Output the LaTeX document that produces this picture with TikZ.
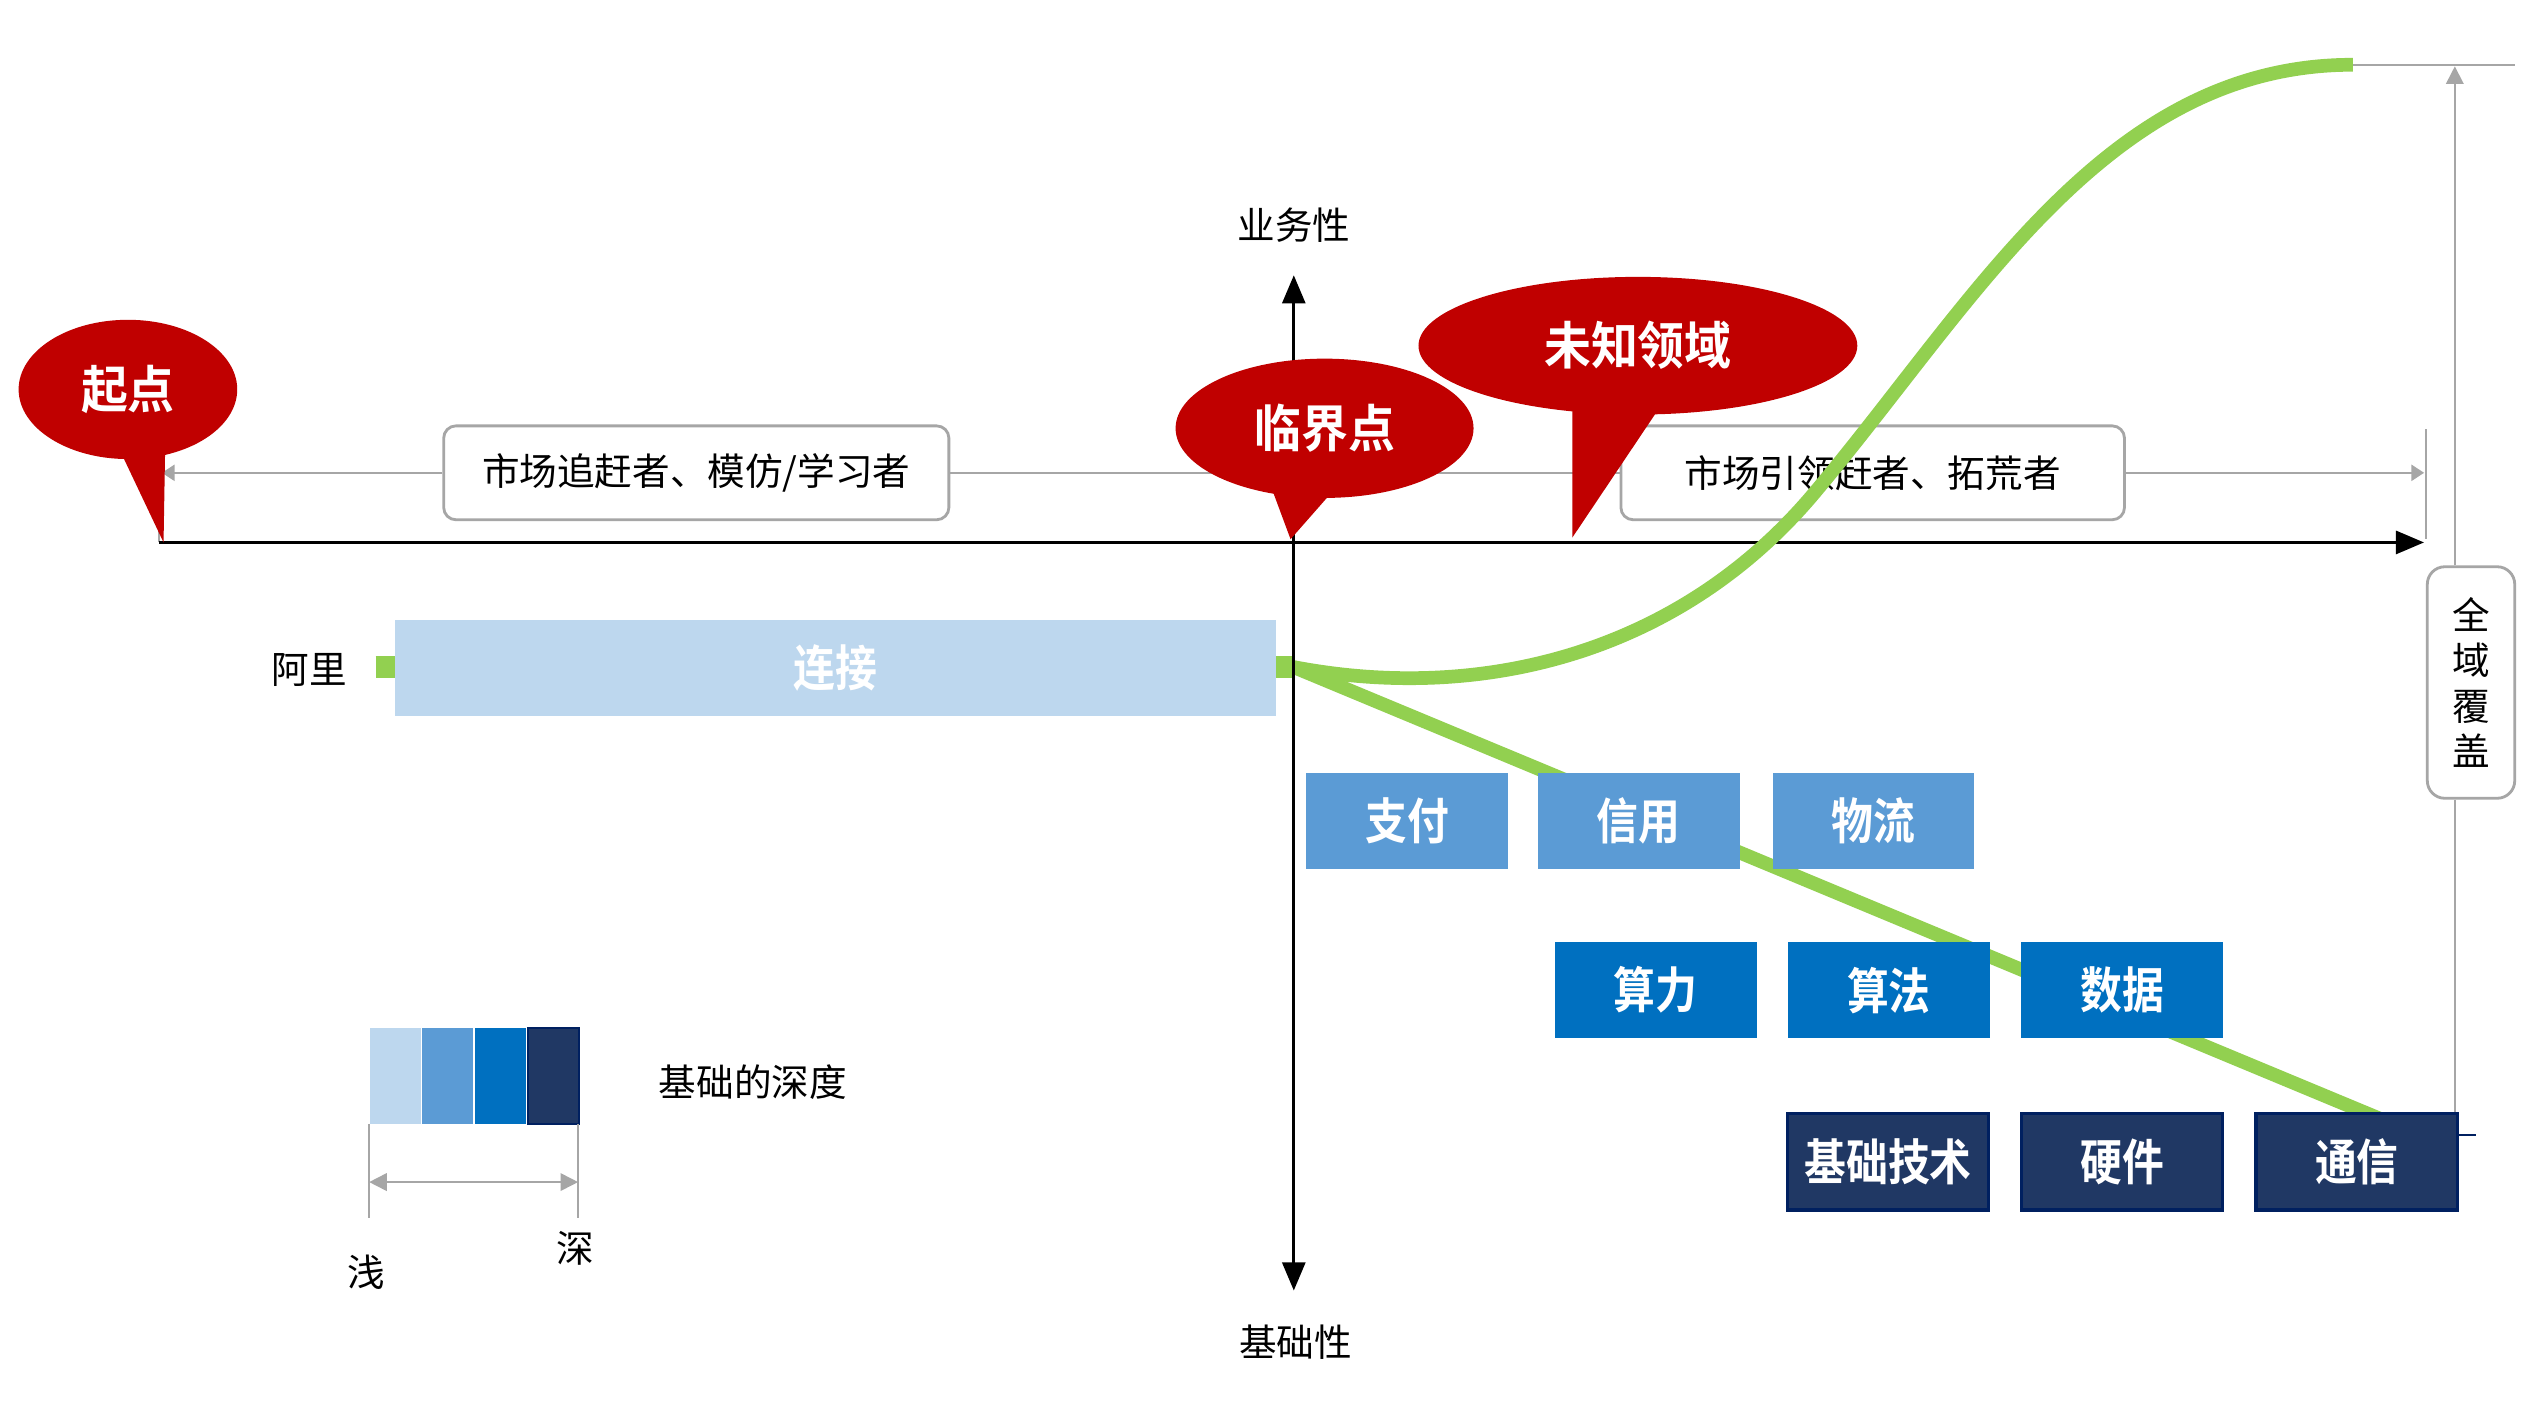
\documentclass[tikz,border=0pt]{standalone}
\usepackage{fontspec}
\setmainfont{Noto Sans CJK SC}
\newfontfamily\cjkb{Noto Sans CJK SC}[UprightFont=* Bold, FakeStretch=0.92]
\newfontfamily\cjkt{Noto Sans CJK SC}[UprightFont=* Bold, FakeStretch=0.85]
\usetikzlibrary{arrows.meta,shapes.geometric}
\definecolor{bubred}{HTML}{C00000}
\definecolor{gline}{HTML}{A6A6A6}
\definecolor{sgreen}{HTML}{92D050}
\definecolor{lblue}{HTML}{BDD7EE}
\definecolor{mblue}{HTML}{5B9BD5}
\definecolor{dblue}{HTML}{0070C0}
\definecolor{navy}{HTML}{203864}
\definecolor{navyedge}{HTML}{002060}
\newcommand\dpx{0.016193cm}
\tikzset{
  btip/.tip={Triangle[length=8pt,width=6.5pt]},
  gtri/.tip={Triangle[length=5pt,width=5pt]},
  lbl/.style={inner sep=0pt, font=\fontsize{10.7}{12.8}\selectfont},
  gdim/.style={draw=gline, line width=0.5pt},
  gtip/.style={-{Triangle[length=3.6pt,width=4.6pt]}},
  gbox/.style={draw=gline, line width=0.8pt, fill=white, rounded corners=3.5pt, inner sep=0pt,
    font=\fontsize{10.7}{12.8}\selectfont},
  axisline/.style={draw=black, line width=1pt},
  greenline/.style={draw=sgreen, line width=3.9pt, line join=round},
  bubble/.style={ellipse, fill=bubred, inner sep=0pt, text=white, font=\cjkb\fontsize{14.5}{15}\selectfont},
  tail/.style={fill=bubred},
  tile/.style={rectangle, inner sep=0pt, minimum width=124.5*\dpx, minimum height=59.5*\dpx,
    text=white, font=\cjkt\fontsize{14}{15}\selectfont},
  leg/.style={rectangle, inner sep=0pt, minimum width=31.5*\dpx, minimum height=59*\dpx}
}
\begin{document}
\begin{tikzpicture}[x=0.016193cm,y=-0.016193cm]
\useasboundingbox (0,0) rectangle (1568,878);
\fill[white] (0,0) rectangle (1568,878);

% ---- top dimension line with role boxes
\coordinate (dimL) at (100,292);
\coordinate (dimR) at (1497,292);
\node[gbox, minimum width=312*\dpx, minimum height=58*\dpx] (lag) at (430,292) {市场追赶者、模仿/学习者};
\node[gbox, minimum width=311*\dpx, minimum height=58*\dpx] (lead) at (1156.5,292) {市场引领赶者、拓荒者};
\draw[gdim, gtip] (lag.west) -- (dimL);
\draw[gdim] (lag.east) -- (lead.west);
\draw[gdim, gtip] (lead.east) -- (dimR);
\coordinate (tlA) at (98,326);
\coordinate (tlB) at (98,335);
\draw[gdim] (tlA) -- (tlB);
\coordinate (trA) at (1498,265);
\coordinate (trB) at (1498,333);
\draw[gdim] (trA) -- (trB);

% ---- right dimension (全域覆盖)
\coordinate (topL) at (1453,40);
\coordinate (topR) at (1553,40);
\draw[gdim] (topL) -- (topR);
\node[gbox, minimum width=54*\dpx, minimum height=143*\dpx, align=center,
  font=\fontsize{10.7}{12.9}\selectfont, rounded corners=5pt] (cover) at (1526,421.5) {全\\域\\覆\\盖};
\coordinate (upTip) at (1516,41);
\draw[gdim, -{gtri}] (cover.north -| upTip) -- (upTip);
\coordinate (botEnd) at (1516,697);
\draw[gdim] (cover.south -| botEnd) -- (botEnd);
\coordinate (nkA) at (1513,701);
\coordinate (nkB) at (1529,701);
\draw[navyedge, line width=0.6pt] (nkA) -- (nkB);

% ---- horizontal axis
\coordinate (ho) at (98,335);
\coordinate (hx) at (1497,335);
\draw[axisline, -{btip}] (ho) -- (hx);

% ---- green lines
\coordinate (ali) at (232,412);
\coordinate (junc) at (799,412);
\coordinate (mid) at (1120,305);
\coordinate (peak) at (1453,40);
\coordinate (deep) at (1470,691);
\draw[draw=sgreen, line width=6.4pt] (ali) -- (junc);
\draw[greenline] (junc) .. controls (920,435) and (1040,400) .. (mid)
                        .. controls (1220,186) and (1300,40) .. (peak);
\draw[greenline] (junc) -- (deep);

% ---- vertical axis
\node[lbl] (biz) at (799,139) {业务性};
\node[lbl] (basis) at (800,829) {基础性};
\coordinate (vT) at (799,170);
\coordinate (vB) at (799,797);
\draw[draw=black, line width=0.9pt, {btip}-{btip}] (vB) -- (vT);

% ---- speech bubbles
\node[bubble, minimum width=135*\dpx, minimum height=86*\dpx] (start) at (79,240.5) {起点};
\fill[tail] (74,278) -- (102,276) -- (101,335) -- cycle;
\node[bubble, minimum width=184*\dpx, minimum height=86*\dpx] (crit) at (818,264.5) {临界点};
\fill[tail] (784,298) -- (826,300) -- (797,333) -- cycle;
\node[bubble, minimum width=271*\dpx, minimum height=85*\dpx] (unk) at (1011.5,213.5) {未知领域};
\fill[tail] (971,248) -- (1026,250) -- (971,332) -- cycle;

% ---- connection bar
\node[lbl] (ali-l) at (191,414) {阿里};
\node[rectangle, fill=lblue, inner sep=0pt, minimum width=544*\dpx, minimum height=59*\dpx,
  text=white, font=\cjkt\fontsize{14}{15}\selectfont] (conn) at (516,412.5) {连接};

% ---- tiles
\node[tile, fill=mblue] (pay) at (869,507) {支付};
\node[tile, fill=mblue] (credit) at (1012,507) {信用};
\node[tile, fill=mblue] (logi) at (1157,507) {物流};
\node[tile, fill=dblue] (comp) at (1022.5,611.5) {算力};
\node[tile, fill=dblue] (algo) at (1166.5,611.5) {算法};
\node[tile, fill=dblue] (data) at (1310.5,611.5) {数据};
\node[tile, fill=navy, draw=navyedge, line width=0.9pt] (tech) at (1166,717.5) {基础技术};
\node[tile, fill=navy, draw=navyedge, line width=0.9pt] (hw) at (1310.5,717.5) {硬件};
\node[tile, fill=navy, draw=navyedge, line width=0.9pt] (comm) at (1455.5,717.5) {通信};

% ---- legend
\node[leg, fill=lblue] (lg1) at (244,664.5) {};
\node[leg, fill=mblue] (lg2) at (276.5,664.5) {};
\node[leg, fill=dblue] (lg3) at (309,664.5) {};
\node[leg, fill=navy, draw=navyedge, line width=0.6pt] (lg4) at (342,664.5) {};
\node[lbl] (depth) at (465,668) {基础的深度};
\coordinate (eLa) at (228,694);
\coordinate (eLb) at (228,752);
\coordinate (eRa) at (357,694);
\coordinate (eRb) at (357,752);
\draw[gdim] (eLa) -- (eLb);
\draw[gdim] (eRa) -- (eRb);
\coordinate (sL) at (228,730);
\coordinate (sR) at (357,730);
\draw[gdim, {gtri}-{gtri}] (sL) -- (sR);
\node[lbl] (shallow) at (226,786) {浅};
\node[lbl] (deepl) at (355,771) {深};
\end{tikzpicture}
\end{document}
